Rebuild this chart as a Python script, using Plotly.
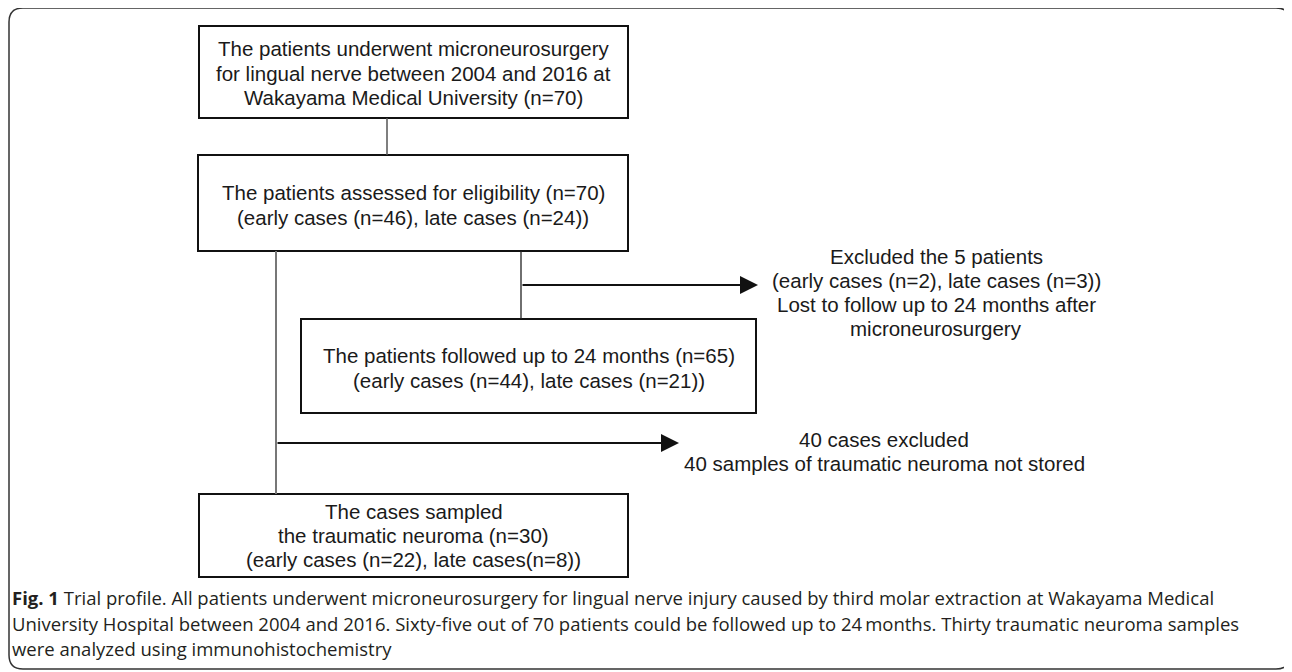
import plotly.graph_objects as go

stage_names = ["underwent", "eligible", "followed", "lost", "not_stored", "sampled"]
stage_total = [70, 70, 65, 5, 40, 30]
stage_early = [None, 46, 44, 2, None, 22]
stage_late = [None, 24, 21, 3, None, 8]
years = [2004, 2016]
followup_months = 24

T = dict(zip(stage_names, stage_total))
E = dict(zip(stage_names, stage_early))
L = dict(zip(stage_names, stage_late))

box_texts = [
    ["The patients underwent microneurosurgery",
     f"for lingual nerve between {years[0]} and {years[1]} at",
     f"Wakayama Medical University (n={T['underwent']})"],
    [f"The patients assessed for eligibility (n={T['eligible']})",
     f"(early cases (n={E['eligible']}), late cases (n={L['eligible']}))"],
    [f"The patients followed up to {followup_months} months (n={T['followed']})",
     f"(early cases (n={E['followed']}), late cases (n={L['followed']}))"],
    ["The cases sampled",
     f"the traumatic neuroma (n={T['sampled']})",
     f"(early cases (n={E['sampled']}), late cases(n={L['sampled']}))"],
]
side_texts = [
    [f"Excluded the {T['lost']} patients",
     f"(early cases (n={E['lost']}), late cases (n={L['lost']}))",
     f"Lost to follow up to {followup_months} months after",
     "microneurosurgery"],
    [f"{T['not_stored']} cases excluded",
     f"{T['not_stored']} samples of traumatic neuroma not stored"],
]
caption_lines = [
    "<b>Fig. 1</b> Trial profile. All patients underwent microneurosurgery for lingual nerve injury caused by third molar extraction at Wakayama Medical",
    f"University Hospital between {years[0]} and {years[1]}. Sixty-five out of {T['underwent']} patients could be followed up to {followup_months}\u2009months. Thirty traumatic neuroma samples",
    "were analyzed using immunohistochemistry",
]

# ---- layout geometry (screen pixels) ----
W, H = 1292, 672
PAGE_MARGIN = 8  # browser default body margin
boxes = [  # x0, x1, y0, y1
    (199, 628, 26, 118),
    (198, 628, 155, 251),
    (301, 756, 319, 413),
    (199, 628, 494, 577),
]
box_line_y = [[48, 73, 97], [192, 217], [355, 380], [511, 535, 559]]
side_cx = [936, 884]
side_line_y = [[256, 280, 304, 328], [439, 463]]
caption_y = [597, 623, 648]

BOXFONT = dict(family="Liberation Sans, Arial, sans-serif", size=20.5, color="#1a1a1a")
CAPFONT = dict(family="Open Sans, Noto Sans, sans-serif", size=18.5, color="#231f20")

fig = go.Figure()
shapes = []
annotations = []

# outer rounded frame
r = 14
x0, x1, y0, y1 = 9, 1290, 8, 669
shapes.append(dict(
    type="path", xref="x", yref="y",
    path=(f"M {x0+r},{y0} L {x1-r},{y0} Q {x1},{y0} {x1},{y0+r} L {x1},{y1-r} "
          f"Q {x1},{y1} {x1-r},{y1} L {x0+r},{y1} Q {x0},{y1} {x0},{y1-r} "
          f"L {x0},{y0+r} Q {x0},{y0} {x0+r},{y0} Z"),
    line=dict(color="#333333", width=1.5)))

for (bx0, bx1, by0, by1), lines, ys in zip(boxes, box_texts, box_line_y):
    shapes.append(dict(type="rect", xref="x", yref="y", x0=bx0, x1=bx1, y0=by0, y1=by1,
                       line=dict(color="#111111", width=2), fillcolor="rgba(0,0,0,0)"))
    cx = (bx0 + bx1) / 2
    for t, y in zip(lines, ys):
        annotations.append(dict(x=cx, y=y, xref="x", yref="y", text=t, showarrow=False,
                                font=BOXFONT, xanchor="center", yanchor="middle"))

# connectors
def seg(xa, ya, xb, yb, color="#111111", width=1.5):
    shapes.append(dict(type="line", xref="x", yref="y", x0=xa, y0=ya, x1=xb, y1=yb,
                       line=dict(color=color, width=width)))

seg(387, 118, 387, 155, color="#555555", width=1.5)
seg(276, 251, 276, 494, color="#777777", width=2)
seg(521, 251, 521, 319, color="#222222", width=1.3)

# arrows
for (xa, xb, y) in [(521, 758, 285), (276, 679, 443)]:
    annotations.append(dict(x=xb, y=y, ax=xa, ay=y, xref="x", yref="y", axref="x", ayref="y",
                            text="", showarrow=True, arrowhead=2, arrowsize=1.8,
                            arrowwidth=2, arrowcolor="#111111", standoff=0, startstandoff=0))

for cx, lines, ys in zip(side_cx, side_texts, side_line_y):
    for t, y in zip(lines, ys):
        annotations.append(dict(x=cx, y=y, xref="x", yref="y", text=t, showarrow=False,
                                font=BOXFONT, xanchor="center", yanchor="middle"))

for t, y in zip(caption_lines, caption_y):
    annotations.append(dict(x=10, y=y, xref="x", yref="y", text=t, showarrow=False,
                            font=CAPFONT, xanchor="left", yanchor="middle", align="left"))

fig.update_layout(
    width=W - PAGE_MARGIN, height=H - PAGE_MARGIN, margin=dict(l=0, r=0, t=0, b=0),
    paper_bgcolor="white", plot_bgcolor="white",
    xaxis=dict(range=[PAGE_MARGIN, W], visible=False, fixedrange=True),
    yaxis=dict(range=[H, PAGE_MARGIN], visible=False, fixedrange=True),
    shapes=shapes, annotations=annotations, showlegend=False,
)
fig.write_html("out.html", config={"displayModeBar": False})
